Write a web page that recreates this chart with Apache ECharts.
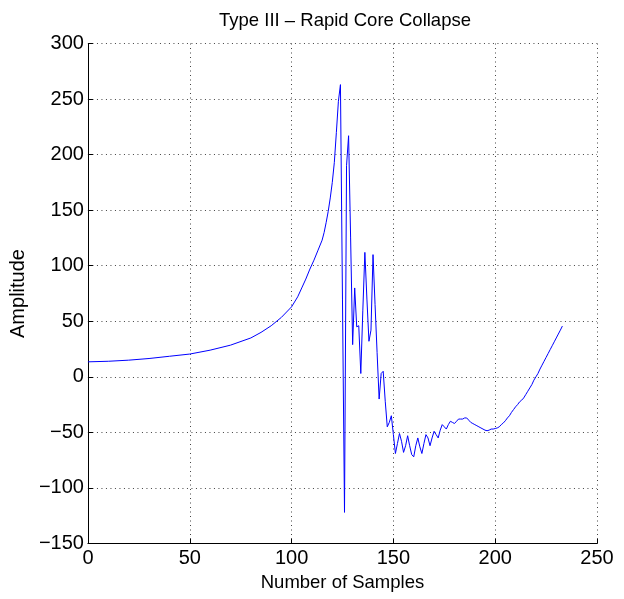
<!DOCTYPE html>
<html>
<head>
<meta charset="utf-8">
<script src="https://cdn.jsdelivr.net/npm/echarts@6/dist/echarts.min.js"></script>
<style>
  html, body { margin: 0; padding: 0; background: #fff; }
  #chart { width: 624px; height: 599px; }
</style>
</head>
<body>
<div id="chart"></div>
<script>
// Sample indices and the measured amplitude at each one
const samples = [
  0, 10, 20, 30, 40, 50, 60, 70, 80, 85, 90, 95, 100, 103, 105, 107, 109, 111, 113, 115,
  116, 117, 118, 119, 120, 121, 122, 123, 124, 125, 126, 127, 128, 129, 130,
  131, 132, 133, 134, 135, 136, 137, 138, 139, 140, 141, 142, 143, 144, 145,
  146, 147, 148, 149, 150, 151, 152, 153, 154, 155, 156, 157, 158, 159, 160,
  161, 162, 163, 164, 165, 166, 167, 168, 169, 170, 171, 172, 173, 174, 175,
  176, 177, 178, 179, 180, 181, 182, 183, 184, 185, 186, 187, 188, 189, 190,
  191, 192, 193, 194, 195, 196, 197, 198, 199, 200, 201, 202, 203, 204, 205,
  206, 207, 208, 209, 210, 211, 212, 213, 214, 215, 216, 217, 218, 219, 220,
  221, 222, 223, 224, 225, 226, 227, 228, 229, 230, 231, 232, 233
];
const amplitude = [
  13.5, 14, 15, 16.5, 18.5, 20.5, 24, 28.5, 35, 40, 46, 53.5, 63, 72, 80, 88, 97, 105, 114, 123,
  130, 139, 149, 161, 175, 193, 220, 248, 263, 70, -122, 190, 217, 125, 29,
  80, 45, 46, 3, 60, 112, 70, 32, 42, 110, 65, 22, -20, 3, 5,
  -22, -45, -41, -35, -52, -69, -60, -51, -58, -68, -62, -53, -62, -70, -72,
  -62, -55, -63, -69, -60, -52, -55, -62, -55, -49, -52, -55, -48, -43, -45,
  -47, -43, -40, -41, -42, -40, -38, -38, -38, -37, -37, -39, -41, -42, -43,
  -44, -45, -46, -47, -48, -48.5, -48, -47, -47, -46.5, -46, -45, -43, -41.5, -39.5,
  -37, -35, -32, -29.5, -27, -25, -22.5, -21, -19, -16, -13, -10, -7, -3, 0,
  3, 7, 10.5, 14, 17.5, 21, 24.5, 28, 31.5, 35, 38.5, 42, 45.7
];
const xTicks = [0, 50, 100, 150, 200, 250];
const yTicks = [-150, -100, -50, 0, 50, 100, 150, 200, 250, 300];

const FONT = '"Liberation Sans", Arial, Helvetica, sans-serif';
const minus = v => (v < 0 ? '\u2212' + Math.abs(v) : String(v));

const gridLine = { show: true, lineStyle: { color: '#444', width: 1, type: [1, 3.5] } };

const chart = echarts.init(document.getElementById('chart'), null, { renderer: 'canvas' });
chart.setOption({
  animation: false,
  backgroundColor: '#fff',
  title: {
    text: 'Type III \u2013 Rapid Core Collapse',
    left: 340, top: 6, textAlign: 'center',
    textStyle: { fontFamily: FONT, fontSize: 18.5, fontWeight: 'normal', color: '#000' }
  },
  grid: { left: 84, right: 27, top: 43.5, bottom: 55.5, containLabel: false },
  xAxis: {
    type: 'value',
    min: xTicks[0], max: xTicks[xTicks.length - 1], interval: 50,
    name: 'Number of Samples', nameLocation: 'middle', nameGap: 28,
    nameTextStyle: { fontFamily: FONT, fontSize: 18.5, color: '#000' },
    axisLine: { show: true, onZero: false, lineStyle: { color: '#000', width: 1 } },
    axisTick: { show: true, inside: true, length: 5, lineStyle: { color: '#000' } },
    axisLabel: { fontFamily: FONT, fontSize: 20, color: '#000', margin: 5, formatter: minus },
    splitLine: gridLine
  },
  yAxis: {
    type: 'value',
    min: yTicks[0], max: yTicks[yTicks.length - 1], interval: 50,
    name: 'Amplitude', nameLocation: 'middle', nameGap: 58,
    nameTextStyle: { fontFamily: FONT, fontSize: 20, color: '#000' },
    axisLine: { show: true, onZero: false, lineStyle: { color: '#000', width: 1 } },
    axisTick: { show: true, inside: true, length: 5, lineStyle: { color: '#000' } },
    axisLabel: { fontFamily: FONT, fontSize: 20, color: '#000', margin: 4, formatter: minus },
    splitLine: gridLine
  },
  series: [{
    type: 'line',
    data: samples.map((s, i) => [s, amplitude[i]]),
    showSymbol: false,
    lineStyle: { color: '#0000ff', width: 1 },
    itemStyle: { color: '#0000ff' }
  }]
});
</script>
</body>
</html>
